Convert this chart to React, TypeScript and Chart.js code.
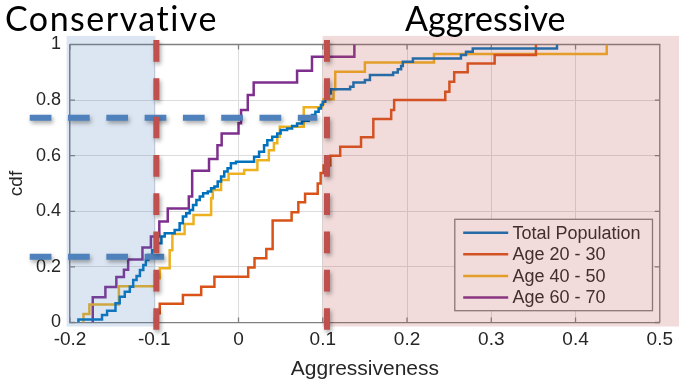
import React, { useEffect, useRef } from 'react';
import { Chart, registerables } from 'chart.js';

Chart.register(...registerables);

const WIDTH = 679;
const HEIGHT = 382;

// Empirical CDF steps: x = aggressiveness where the CDF jumps, y = cdf after the jump
const totalX = [-0.19, -0.19, -0.162, -0.156, -0.146, -0.141, -0.135, -0.129, -0.125, -0.121, -0.117, -0.113, -0.11, -0.107, -0.1025, -0.097, -0.0915, -0.0876, -0.0758, -0.0699, -0.066, -0.062, -0.058, -0.054, -0.05, -0.046, -0.042, -0.0365, -0.0325, -0.0286, -0.0247, -0.0207, -0.0169, -0.013, -0.009, -0.003, 0.0185, 0.0244, 0.0303, 0.0342, 0.04, 0.046, 0.05, 0.0577, 0.0636, 0.0695, 0.0754, 0.0833, 0.0872, 0.0912, 0.0951, 0.0978, 0.1, 0.103, 0.107, 0.1096, 0.1325, 0.1364, 0.15, 0.156, 0.1835, 0.189, 0.193, 0.195, 0.207, 0.264, 0.27, 0.278, 0.378];
const totalY = [0, 0.011, 0.027, 0.042, 0.069, 0.093, 0.111, 0.129, 0.153, 0.167, 0.189, 0.207, 0.225, 0.243, 0.26, 0.285, 0.309, 0.321, 0.333, 0.357, 0.381, 0.393, 0.405, 0.423, 0.441, 0.453, 0.465, 0.471, 0.483, 0.489, 0.507, 0.525, 0.543, 0.555, 0.573, 0.578, 0.596, 0.614, 0.638, 0.656, 0.668, 0.68, 0.692, 0.698, 0.707, 0.716, 0.726, 0.734, 0.746, 0.758, 0.77, 0.782, 0.794, 0.81, 0.824, 0.839, 0.848, 0.863, 0.872, 0.89, 0.899, 0.911, 0.923, 0.938, 0.95, 0.962, 0.974, 0.986, 1.0];

const age2030X = [-0.0973, -0.0973, -0.0935, -0.066, -0.0443, -0.0286, 0.0115, 0.019, 0.033, 0.0405, 0.063, 0.071, 0.079, 0.094, 0.0975, 0.101, 0.109, 0.1207, 0.1454, 0.16, 0.1812, 0.1847, 0.2454, 0.2503, 0.256, 0.272, 0.304, 0.353];
const age2030Y = [0, 0.033, 0.067, 0.099, 0.129, 0.165, 0.198, 0.231, 0.264, 0.367, 0.397, 0.433, 0.463, 0.5, 0.538, 0.565, 0.6, 0.632, 0.666, 0.732, 0.764, 0.8, 0.83, 0.866, 0.9, 0.932, 0.962, 1.0];

const age4050X = [-0.184, -0.184, -0.177, -0.142, -0.097, -0.0934, -0.0817, -0.0785, -0.064, -0.0534, -0.0325, -0.0306, -0.0207, -0.0118, 0.0067, 0.0224, 0.036, 0.042, 0.046, 0.049, 0.0774, 0.099, 0.101, 0.1128, 0.1148, 0.15, 0.232, 0.437];
const age4050Y = [0, 0.031, 0.065, 0.13, 0.159, 0.195, 0.26, 0.318, 0.354, 0.387, 0.447, 0.477, 0.513, 0.535, 0.549, 0.584, 0.62, 0.645, 0.668, 0.704, 0.774, 0.786, 0.803, 0.836, 0.902, 0.935, 0.966, 1.0];

const age6070X = [-0.173, -0.173, -0.158, -0.145, -0.136, -0.131, -0.114, -0.104, -0.094, -0.084, -0.059, -0.055, -0.035, -0.025, -0.02, 0.0, 0.003, 0.011, 0.018, 0.0695, 0.0872, 0.1375];
const age6070Y = [0, 0.091, 0.128, 0.164, 0.19, 0.227, 0.27, 0.309, 0.363, 0.41, 0.453, 0.546, 0.588, 0.638, 0.68, 0.717, 0.764, 0.818, 0.863, 0.906, 0.956, 1.0];

const seriesNames = ['Total Population', 'Age 20 - 30', 'Age 40 - 50', 'Age 60 - 70'];
const seriesColors = ['#0072BD', '#D95319', '#EDB120', '#7E2F8E'];

const xTicks = [-0.2, -0.1, 0, 0.1, 0.2, 0.3, 0.4, 0.5];
const xTickLabels = ['-0.2', '-0.1', '0', '0.1', '0.2', '0.3', '0.4', '0.5'];
const yTicks = [0, 0.2, 0.4, 0.6, 0.8, 1];
const yTickLabels = ['0', '0.2', '0.4', '0.6', '0.8', '1'];

const xTitle = 'Aggressiveness';
const yTitle = 'cdf';
const zoneLabels = ['Conservative', 'Aggressive'];

// Shaded zones, cut-off markers and quartile guides, in data units
const conservativeZone = [-0.204, -0.0985];
const aggressiveZoneStart = 0.0998;
const zoneYRange = [-0.0145, 1.031];
const cutoffX = [-0.0975, 0.105];
const cutoffYRange = [-0.027, 1.016];
const quartileLevels = [0.2367, 0.7367];
const quartileEnds = [-0.0882, 0.0935];
const quartileStart = -0.2478;

const AXIS_COLOR = '#808080';
const TEXT_COLOR = '#262626';
const SANS = '"Liberation Sans", Arial, sans-serif';

const toPoints = (xs: number[], ys: number[]) => xs.map((x, i) => ({ x, y: ys[i] }));

const decorPlugin = {
  id: 'decor',
  beforeDatasetsDraw(chart: any) {
    const { ctx, chartArea: a, scales } = chart;
    const xs = scales.x;
    const ys = scales.y;
    ctx.save();
    ctx.strokeStyle = AXIS_COLOR;
    ctx.lineWidth = 1.3;
    ctx.beginPath();
    ctx.moveTo(a.left, a.top);
    ctx.lineTo(a.right, a.top);
    ctx.lineTo(a.right, a.bottom);
    const tl = 5;
    xTicks.forEach((v) => {
      const px = xs.getPixelForValue(v);
      ctx.moveTo(px, a.bottom);
      ctx.lineTo(px, a.bottom - tl);
      ctx.moveTo(px, a.top);
      ctx.lineTo(px, a.top + tl);
    });
    yTicks.forEach((v) => {
      const py = ys.getPixelForValue(v);
      ctx.moveTo(a.left, py);
      ctx.lineTo(a.left + tl, py);
      ctx.moveTo(a.right, py);
      ctx.lineTo(a.right - tl, py);
    });
    ctx.stroke();
    ctx.restore();
  },
  afterDatasetsDraw(chart: any) {
    const { ctx, chartArea: a, scales } = chart;
    const xs = scales.x;
    const ys = scales.y;
    ctx.save();

    // legend box inside the axes
    const lx = a.right - 205;
    const ly = a.bottom - 103.2;
    const lw = 197.7;
    const lh = 91.4;
    ctx.fillStyle = '#ffffff';
    ctx.fillRect(lx, ly, lw, lh);
    ctx.strokeStyle = AXIS_COLOR;
    ctx.lineWidth = 1.3;
    ctx.strokeRect(lx, ly, lw, lh);
    ctx.font = `18px ${SANS}`;
    ctx.textBaseline = 'middle';
    ctx.textAlign = 'left';
    seriesNames.forEach((name, i) => {
      const ry = ly + 13.4 + i * 21.6;
      ctx.strokeStyle = seriesColors[i];
      ctx.lineWidth = 2.5;
      ctx.beginPath();
      ctx.moveTo(lx + 8.4, ry);
      ctx.lineTo(lx + 53.4, ry);
      ctx.stroke();
      ctx.fillStyle = TEXT_COLOR;
      ctx.fillText(name, lx + 57.7, ry + 1);
    });

    // translucent zones laid over the plot
    const zTop = ys.getPixelForValue(zoneYRange[1]);
    const zBottom = ys.getPixelForValue(zoneYRange[0]);
    const cl = xs.getPixelForValue(conservativeZone[0]);
    const cr = xs.getPixelForValue(conservativeZone[1]);
    ctx.fillStyle = 'rgba(79,129,189,0.2)';
    ctx.fillRect(cl, zTop, cr - cl, zBottom - zTop);
    const al = xs.getPixelForValue(aggressiveZoneStart);
    ctx.fillStyle = 'rgba(192,80,77,0.2)';
    ctx.fillRect(al, zTop, chart.width - al, zBottom - zTop);

    // dashed markers with a soft drop shadow
    ctx.shadowColor = 'rgba(0,0,0,0.35)';
    ctx.shadowBlur = 4;
    ctx.shadowOffsetX = 1.5;
    ctx.shadowOffsetY = 2.5;
    ctx.lineWidth = 6;
    ctx.lineCap = 'butt';
    ctx.setLineDash([21.7, 16.6]);

    ctx.strokeStyle = '#4F81BD';
    quartileLevels.forEach((lvl, i) => {
      const py = ys.getPixelForValue(lvl);
      ctx.beginPath();
      ctx.moveTo(xs.getPixelForValue(quartileStart), py);
      ctx.lineTo(xs.getPixelForValue(quartileEnds[i]), py);
      ctx.stroke();
    });

    ctx.strokeStyle = '#C0504D';
    cutoffX.forEach((v) => {
      const px = xs.getPixelForValue(v);
      ctx.beginPath();
      ctx.moveTo(px, ys.getPixelForValue(cutoffYRange[1]));
      ctx.lineTo(px, ys.getPixelForValue(cutoffYRange[0]));
      ctx.stroke();
    });

    ctx.setLineDash([]);
    ctx.shadowColor = 'transparent';

    // zone headings
    ctx.fillStyle = '#000000';
    ctx.font = '34px Lato, "Open Sans", sans-serif';
    ctx.textBaseline = 'alphabetic';
    ctx.textAlign = 'left';
    ctx.letterSpacing = '1.5px';
    ctx.fillText(zoneLabels[0], 5, 31);
    ctx.letterSpacing = '0px';
    ctx.fillText(zoneLabels[1], 405, 31);

    ctx.restore();
  },
};

export default function App() {
  const canvasRef = useRef<HTMLCanvasElement | null>(null);

  useEffect(() => {
    const canvas = canvasRef.current;
    if (!canvas) return;
    const seriesX = [totalX, age2030X, age4050X, age6070X];
    const seriesY = [totalY, age2030Y, age4050Y, age6070Y];

    const chart = new Chart(canvas, {
      type: 'line',
      data: {
        datasets: seriesNames.map((name, i) => ({
          label: name,
          data: toPoints(seriesX[i], seriesY[i]),
          borderColor: seriesColors[i],
          backgroundColor: seriesColors[i],
          borderWidth: 2.5,
          pointRadius: 0,
          // horizontal run to the next jump, then the vertical rise
          stepped: 'before' as const,
          fill: false,
        })),
      },
      options: {
        animation: false,
        responsive: false,
        maintainAspectRatio: false,
        devicePixelRatio: 1,
        layout: { padding: { left: 0, right: 15.5, top: 44.5, bottom: 0 } },
        plugins: {
          legend: { display: false },
          tooltip: { enabled: false },
        },
        scales: {
          x: {
            type: 'linear',
            min: -0.2,
            max: 0.5,
            afterBuildTicks: (scale: any) => {
              scale.ticks = xTicks.map((value) => ({ value }));
            },
            afterFit: (scale: any) => {
              scale.height = 59.5;
            },
            ticks: {
              autoSkip: false,
              maxRotation: 0,
              padding: 6,
              color: TEXT_COLOR,
              font: { family: SANS, size: 19 },
              callback: (_v: any, i: number) => xTickLabels[i],
            },
            grid: { color: '#dcdcdc', lineWidth: 1, drawTicks: false },
            border: { display: true, color: AXIS_COLOR, width: 1.3 },
            title: {
              display: true,
              text: xTitle,
              color: TEXT_COLOR,
              font: { family: SANS, size: 21 },
              padding: { top: 0, bottom: 0 },
            },
          },
          y: {
            type: 'linear',
            min: 0,
            max: 1,
            afterBuildTicks: (scale: any) => {
              scale.ticks = yTicks.map((value) => ({ value }));
            },
            afterFit: (scale: any) => {
              scale.width = 70;
            },
            ticks: {
              autoSkip: false,
              padding: 9,
              color: TEXT_COLOR,
              font: { family: SANS, size: 18 },
              callback: (_v: any, i: number) => yTickLabels[i],
            },
            grid: { color: '#dcdcdc', lineWidth: 1, drawTicks: false },
            border: { display: true, color: AXIS_COLOR, width: 1.3 },
            title: {
              display: true,
              text: yTitle,
              color: TEXT_COLOR,
              font: { family: SANS, size: 19 },
              padding: { top: 5, bottom: 0 },
            },
          },
        },
      },
      plugins: [decorPlugin],
    });

    return () => chart.destroy();
  }, []);

  return (
    <div style={{ position: 'fixed', left: 0, top: 0, width: WIDTH, height: HEIGHT, background: '#ffffff' }}>
      <canvas ref={canvasRef} width={WIDTH} height={HEIGHT} style={{ display: 'block' }} />
    </div>
  );
}
